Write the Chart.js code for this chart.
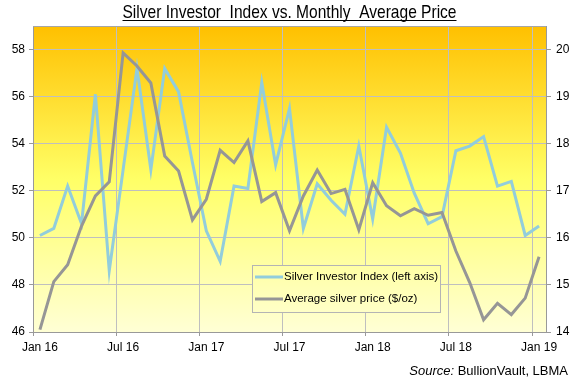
<!DOCTYPE html>
<html><head><meta charset="utf-8">
<script src="https://cdn.jsdelivr.net/npm/chart.js@4"></script>
<style>html,body{margin:0;padding:0;background:#fff;}</style>
</head><body>
<canvas id="c" width="575" height="379"></canvas>
<script>
const titleText = 'Silver Investor  Index vs. Monthly  Average Price';
const sourceLabel = 'Source:';
const sourceText = ' BullionVault, LBMA';
const months = ['Jan 16','Feb 16','Mar 16','Apr 16','May 16','Jun 16','Jul 16','Aug 16','Sep 16','Oct 16','Nov 16','Dec 16',
  'Jan 17','Feb 17','Mar 17','Apr 17','May 17','Jun 17','Jul 17','Aug 17','Sep 17','Oct 17','Nov 17','Dec 17',
  'Jan 18','Feb 18','Mar 18','Apr 18','May 18','Jun 18','Jul 18','Aug 18','Sep 18','Oct 18','Nov 18','Dec 18','Jan 19'];
const investorIndex = [50.1,50.4,52.2,50.6,56.1,48.6,52.9,57.2,52.9,57.2,56.2,53.2,
  50.3,49.0,52.2,52.1,56.6,53.1,55.5,50.4,52.3,51.6,51.0,53.9,
  50.8,54.7,53.6,51.9,50.6,50.9,53.7,53.9,54.3,52.2,52.4,50.1,50.5];
const silverPrice = [14.05,15.07,15.43,16.25,16.89,17.19,19.93,19.65,19.29,17.74,17.42,16.38,
  16.82,17.86,17.60,18.06,16.77,16.96,16.15,16.89,17.44,16.94,17.03,16.17,
  17.17,16.68,16.47,16.62,16.48,16.54,15.72,15.05,14.26,14.61,14.37,14.72,15.60];
const seriesNames = ['Silver Investor Index (left axis)', 'Average silver price ($/oz)'];
const seriesColors = ['#92CDDC', '#969696'];

Chart.defaults.font.family = '"Liberation Sans", Arial, sans-serif';
Chart.defaults.font.size = 12;
Chart.defaults.color = '#000';

function plotGradient(ctx, a){
  const g = ctx.createLinearGradient(0, a.top, 0, a.bottom);
  g.addColorStop(0, '#FFC000');
  g.addColorStop(0.5, '#FFFF66');
  g.addColorStop(1, '#FFFFD5');
  return g;
}

const decor = {
  id: 'decor',
  beforeDraw(chart){
    const {ctx, chartArea:a} = chart;
    ctx.save();
    ctx.fillStyle = '#fff';
    ctx.fillRect(0, 0, chart.width, chart.height);
    ctx.fillStyle = plotGradient(ctx, a);
    ctx.fillRect(a.left, a.top, a.right - a.left, a.bottom - a.top);
    ctx.restore();
  },
  afterDraw(chart){
    const {ctx, chartArea:a} = chart;
    ctx.save();
    // top border of plot area
    ctx.strokeStyle = '#A6A6A6';
    ctx.lineWidth = 1;
    ctx.beginPath(); ctx.moveTo(a.left, a.top + 0.5); ctx.lineTo(a.right, a.top + 0.5); ctx.stroke();

    // title (narrow, underlined)
    const cx = (a.left + a.right) / 2;
    const targetW = 334;
    ctx.font = '19px "Liberation Sans Narrow", "Liberation Sans", Arial, sans-serif';
    const w = ctx.measureText(titleText).width;
    ctx.fillStyle = '#000';
    ctx.textBaseline = 'alphabetic';
    ctx.textAlign = 'center';
    ctx.save();
    ctx.translate(cx, 18);
    ctx.scale(targetW / w, 1);
    ctx.fillText(titleText, 0, 0);
    ctx.restore();
    ctx.strokeStyle = '#000';
    ctx.lineWidth = 1.2;
    ctx.beginPath(); ctx.moveTo(cx - targetW/2, 20.5); ctx.lineTo(cx + targetW/2, 20.5); ctx.stroke();

    // legend
    const lx = 252, ly = 265, lw = 188, lh = 47;
    ctx.fillStyle = plotGradient(ctx, a);
    ctx.fillRect(lx, ly, lw, lh);
    ctx.strokeStyle = '#B4B4B4';
    ctx.lineWidth = 1;
    ctx.strokeRect(lx + 0.5, ly + 0.5, lw, lh);
    ctx.font = '11.5px "Liberation Sans", Arial, sans-serif';
    ctx.textAlign = 'left';
    ctx.textBaseline = 'middle';
    chart.data.datasets.forEach((ds, i) => {
      const yy = ly + 12 + i * 22;
      ctx.strokeStyle = ds.borderColor;
      ctx.lineWidth = 3;
      ctx.beginPath(); ctx.moveTo(lx + 3, yy); ctx.lineTo(lx + 31, yy); ctx.stroke();
      ctx.fillStyle = '#000';
      ctx.fillText(ds.label, lx + 32, yy);
    });

    // source
    ctx.textBaseline = 'alphabetic';
    ctx.textAlign = 'left';
    ctx.font = '13px "Liberation Sans", Arial, sans-serif';
    const w2 = ctx.measureText(sourceText).width;
    ctx.font = 'italic 13px "Liberation Sans", Arial, sans-serif';
    const w1 = ctx.measureText(sourceLabel).width;
    const right = 568, base = 375;
    ctx.fillText(sourceLabel, right - w2 - w1, base);
    ctx.font = '13px "Liberation Sans", Arial, sans-serif';
    ctx.fillText(sourceText, right - w2, base);
    ctx.restore();
  }
};

new Chart(document.getElementById('c'), {
  type: 'line',
  data: {
    labels: months,
    datasets: [
      {label: seriesNames[0], data: investorIndex, yAxisID: 'y', borderColor: seriesColors[0], backgroundColor: seriesColors[0], borderWidth: 3, pointRadius: 0, tension: 0, order: 1},
      {label: seriesNames[1], data: silverPrice, yAxisID: 'y1', borderColor: seriesColors[1], backgroundColor: seriesColors[1], borderWidth: 3, pointRadius: 0, tension: 0, order: 0}
    ]
  },
  options: {
    responsive: false, animation: false, devicePixelRatio: 1,
    layout: {padding: {top: 26, left: 0, right: 0, bottom: 0}},
    plugins: {legend: {display: false}, title: {display: false}, tooltip: {enabled: false}},
    scales: {
      x: {
        type: 'category', offset: true,
        grid: {offset: true, lineWidth: 1,
          color: c => (c.index % 6 === 0 ? '#BFBFBF' : 'rgba(0,0,0,0)'),
          tickColor: c => (c.index % 6 === 0 ? '#999999' : 'rgba(0,0,0,0)'),
          tickLength: 4},
        border: {color: '#999999', width: 1},
        ticks: {autoSkip: false, maxRotation: 0, minRotation: 0, padding: 4,
          callback: (v, i) => (i % 6 === 0 ? months[i] : '')},
        afterFit: s => { s.height = 47; }
      },
      y: {
        position: 'left', min: 46, max: 59,
        ticks: {stepSize: 2, includeBounds: false, padding: 4},
        grid: {color: '#BFBFBF', tickColor: '#999999', tickLength: 4},
        border: {color: '#999999', width: 1},
        afterFit: s => { s.width = 33; }
      },
      y1: {
        position: 'right', min: 14, max: 20.5,
        ticks: {stepSize: 1, includeBounds: false, padding: 5},
        grid: {drawOnChartArea: false, tickColor: '#999999', tickLength: 5},
        border: {color: '#999999', width: 1},
        afterFit: s => { s.width = 29; }
      }
    }
  },
  plugins: [decor]
});
</script>
</body></html>
